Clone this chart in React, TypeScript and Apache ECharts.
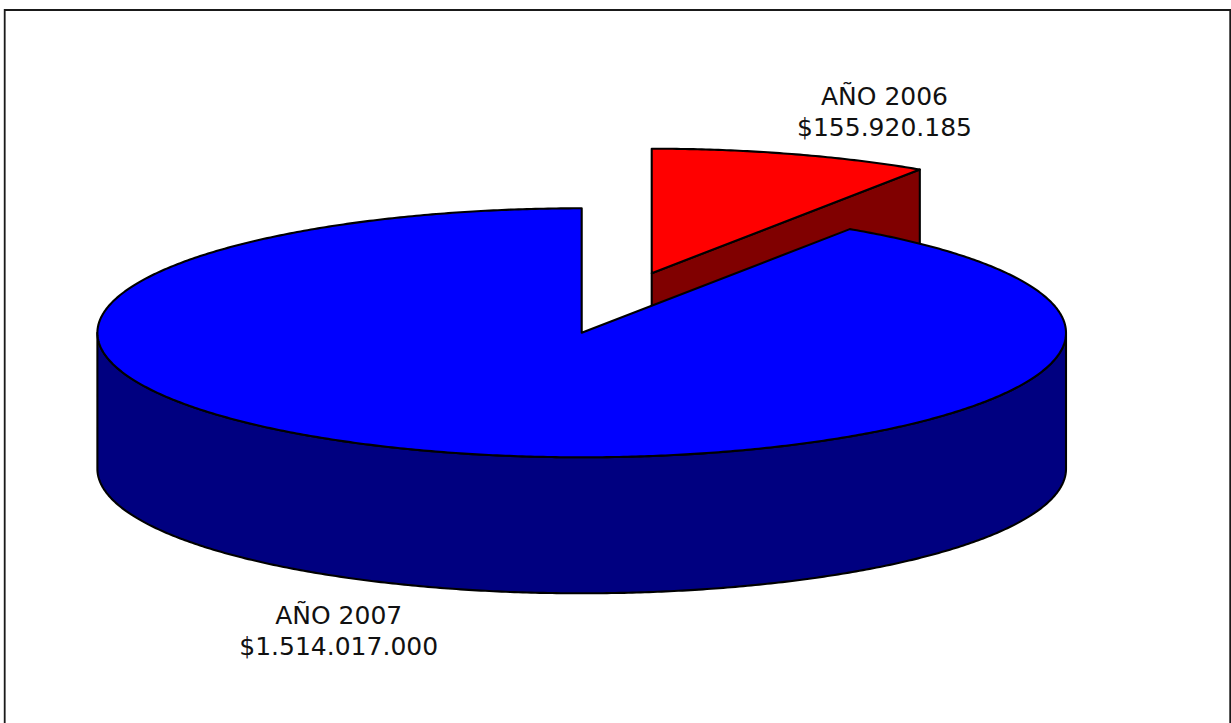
import React, { useEffect, useRef } from "react";
import * as echarts from "echarts";

// ---- data ----
const categories: string[] = ["AÑO 2006", "AÑO 2007"];
const values: number[] = [155920185, 1514017000];
const valueLabels: string[] = ["$155.920.185", "$1.514.017.000"];

// ---- style / layout ----
const TOP_COLORS = ["#FF0000", "#0000FF"];
const SIDE_COLORS = ["#800000", "#000080"];
const EXPLODE = [0.5, 0];
const CX = 581.7;
const CY = 332.8;
const RX = 484.3;
const RY = 124.5;
const DEPTH = 136;
const LABEL_POS: number[][] = [
  [884.5, 112],
  [338.7, 631],
];
const FONT = "'DejaVu Sans', Verdana, sans-serif";

function renderItem(params: any, api: any) {
  const i = params.dataIndex;
  const total = values.reduce((a, b) => a + b, 0);
  let cum = 0;
  for (let k = 0; k < i; k++) cum += values[k];
  const v = api.value(1);
  const start = Math.PI / 2 - (2 * Math.PI * cum) / total;
  const end = start - (2 * Math.PI * v) / total;
  const mid = (start + end) / 2;
  const ex = EXPLODE[i] || 0;
  const cx = CX + RX * Math.cos(mid) * ex;
  const cy = CY - RY * Math.sin(mid) * ex;
  const pt = (a: number, d = 0) => [cx + RX * Math.cos(a), cy - RY * Math.sin(a) + d];
  const arc = (a0: number, a1: number, d: number) => {
    const n = Math.max(2, Math.ceil(Math.abs(a1 - a0) / (Math.PI / 360)));
    const out: number[][] = [];
    for (let k = 0; k <= n; k++) out.push(pt(a0 + ((a1 - a0) * k) / n, d));
    return out;
  };
  const stroke = { stroke: "#000", lineWidth: 2.1, lineJoin: "round" };
  const children: any[] = [];

  // outer side (front half, where sin(a) < 0)
  const kMin = Math.floor(end / (2 * Math.PI)) - 1;
  const kMax = Math.ceil(start / (2 * Math.PI)) + 1;
  for (let k = kMin; k <= kMax; k++) {
    const lo = Math.max(end, -Math.PI + 2 * Math.PI * k);
    const hi = Math.min(start, 2 * Math.PI * k);
    if (hi > lo + 1e-6) {
      const pts = arc(hi, lo, 0).concat(arc(lo, hi, DEPTH));
      children.push({
        type: "polygon",
        shape: { points: pts },
        style: { fill: SIDE_COLORS[i], ...stroke },
      });
    }
  }
  // end cut face
  if (Math.cos(end) > 1e-6) {
    children.push({
      type: "polygon",
      shape: { points: [[cx, cy], pt(end), pt(end, DEPTH), [cx, cy + DEPTH]] },
      style: { fill: SIDE_COLORS[i], ...stroke },
    });
  }
  // start cut face
  if (-Math.cos(start) > 1e-6) {
    children.push({
      type: "polygon",
      shape: { points: [[cx, cy], pt(start), pt(start, DEPTH), [cx, cy + DEPTH]] },
      style: { fill: SIDE_COLORS[i], ...stroke },
    });
  }
  // top face
  children.push({
    type: "polygon",
    shape: { points: [[cx, cy]].concat(arc(start, end, 0)) },
    style: { fill: TOP_COLORS[i], ...stroke },
  });
  // label
  const lp = LABEL_POS[i];
  children.push({
    type: "text",
    x: lp[0],
    y: lp[1],
    z2: 100,
    style: {
      text: categories[i] + "\n" + valueLabels[i],
      fontSize: 25,
      lineHeight: 31,
      fontFamily: FONT,
      fill: "#111",
      align: "center",
      verticalAlign: "middle",
    },
  });
  return { type: "group", children };
}

export default function App() {
  const ref = useRef<HTMLDivElement>(null);
  useEffect(() => {
    if (!ref.current) return;
    const chart = echarts.init(ref.current, undefined, { renderer: "svg" });
    chart.setOption({
      animation: false,
      backgroundColor: "#fff",
      graphic: [
        {
          type: "rect",
          shape: { x: 4.7, y: 10, width: 1225.5, height: 800 },
          style: { fill: "none", stroke: "#1a1a1a", lineWidth: 1.8 },
          z: -1,
        },
      ],
      series: [
        {
          type: "custom",
          coordinateSystem: "none",
          renderItem,
          data: values.map((v, i) => [i, v]),
        },
      ],
    });
    return () => chart.dispose();
  }, []);
  return (
    <div
      ref={ref}
      style={{ position: "fixed", left: 0, top: 0, width: 1231, height: 723 }}
    />
  );
}
